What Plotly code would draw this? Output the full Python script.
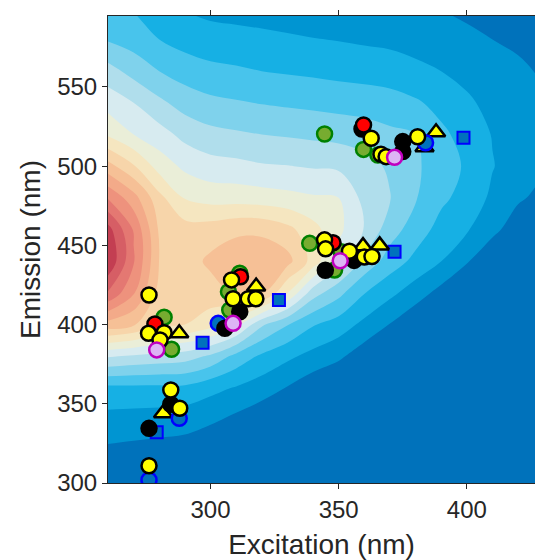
import numpy as np
import plotly.graph_objects as go

# ---------------- background EEM (contour level estimates) -------------
ex_grid = [260, 270, 280, 290, 300, 310, 320, 330, 340, 350, 360, 370, 380, 390, 400, 410, 420, 430]
em_grid = [300, 320, 340, 360, 380, 400, 420, 440, 460, 480, 500, 520, 540, 560, 580, 600]

col_260 = [0.0, 0.8, 1.66, 2.75, 6.1, 10.6, 13.9, 15.9, 15.4, 12.9, 10.4, 7.85, 6.6, 5.4, 3.9, 3.2]
col_270 = [0.0, 0.7, 1.6, 2.75, 5.85, 10.1, 12.1, 13.1, 12.9, 11.4, 9.1, 7.0, 6.0, 4.64, 3.55, 2.9]
col_280 = [-0.1, 0.6, 1.53, 2.76, 5.66, 9.15, 9.6, 9.97, 9.85, 9.3, 7.57, 6.41, 5.22, 4.0, 3.0, 2.0]
col_290 = [-0.4, 0.55, 1.4, 2.76, 5.47, 9.0, 9.4, 9.55, 9.45, 7.93, 6.78, 5.7, 4.58, 3.55, 2.62, 1.9]
col_300 = [-1.2, 0.0, 1.19, 2.29, 4.82, 8.37, 9.6, 10.2, 9.5, 7.6, 6.4, 5.3, 4.24, 3.26, 2.42, 1.7]
col_310 = [-1.6, -0.42, 0.75, 1.92, 3.67, 7.33, 10.15, 10.6, 9.8, 7.57, 6.29, 5.14, 4.09, 3.14, 2.35, 1.6]
col_320 = [-2.0, -0.86, 0.3, 1.48, 2.81, 5.16, 10.2, 10.65, 9.8, 7.46, 6.1, 5.0, 3.95, 3.0, 2.26, 1.5]
col_330 = [-2.8, -1.56, -0.3, 0.94, 2.21, 4.06, 8.0, 10.35, 9.3, 7.31, 6.03, 4.9, 3.84, 2.9, 2.15, 1.4]
col_340 = [-3.8, -2.4, -1.05, 0.32, 1.68, 3.07, 5.45, 8.6, 8.35, 7.12, 5.91, 4.79, 3.75, 2.81, 2.04, 1.3]
col_350 = [-4.0, -2.8, -1.5, -0.13, 1.2, 2.53, 4.29, 6.51, 7.25, 7.0, 5.82, 4.68, 3.63, 2.7, 1.96, 1.25]
col_360 = [-4.9, -3.6, -2.3, -0.9, 0.41, 1.74, 3.04, 4.72, 5.95, 5.7, 5.4, 4.51, 3.54, 2.62, 1.85, 1.2]
col_370 = [-5.7, -4.4, -3.0, -1.7, -0.37, 0.96, 2.25, 3.53, 4.46, 5.05, 4.84, 4.22, 3.4, 2.52, 1.76, 1.15]
col_380 = [-6.5, -5.2, -3.9, -2.5, -1.2, 0.16, 1.48, 2.73, 3.51, 4.08, 4.2, 4.0, 3.13, 2.26, 1.6, 1.05]
col_390 = [-7.4, -6.0, -4.7, -3.4, -2.0, -0.7, 0.65, 2.01, 2.65, 3.2, 3.35, 3.2, 2.7, 2.0, 1.5, 0.95]
col_400 = [-8.2, -6.9, -5.5, -4.2, -2.9, -1.5, -0.2, 1.1, 2.1, 2.65, 2.9, 2.65, 2.2, 1.65, 1.2, 0.8]
col_410 = [-9.2, -7.9, -6.5, -5.2, -3.9, -2.5, -1.2, 0.1, 1.3, 1.8, 2.05, 1.95, 1.65, 1.35, 1.0, 0.7]
col_420 = [-10.0, -8.7, -7.3, -6.0, -4.7, -3.4, -2.0, -0.8, 0.4, 1.15, 1.5, 1.5, 1.35, 1.15, 0.85, 0.55]
col_430 = [-10.8, -9.5, -8.1, -6.8, -5.5, -4.2, -2.8, -1.5, -0.2, 0.7, 1.1, 1.2, 1.1, 0.9, 0.6, 0.3]

band_colors = ["#0072BB", "#0095D2", "#16B0E4", "#48C4EC", "#7FD2EC", "#B0DEEC", "#D7EBF0",
               "#EAEED8", "#F5E6C0", "#F7D5AA", "#F6C096", "#F3AA89", "#EE927D", "#E47872",
               "#D65E65", "#C33E52"]

# ---------------- marker datasets ----------------
yc_ex = [276.0, 284.5, 288.0, 276.0, 275.8, 281.9, 280.3, 308.2, 308.8, 314.7, 317.7,
         344.5, 344.9, 354.2, 360.0, 363.0, 362.7, 366.5, 368.5, 380.8]
yc_em = [310.9, 358.7, 347.2, 418.7, 394.5, 394.9, 390.3, 428.2, 416.3, 416.3, 416.3,
         453.5, 447.8, 446.3, 442.7, 443.0, 517.6, 507.5, 506.0, 518.6]

bk_ex = [276.0, 284.5, 311.4, 305.6, 344.8, 356.0, 359.1, 375.0, 375.0]
bk_em = [334.5, 349.7, 408.1, 397.7, 434.3, 440.5, 523.5, 515.5, 509.2]

rd_ex = [278.3, 311.7, 347.8, 359.7]
rd_em = [400.4, 430.2, 451.7, 526.0]

gr_ex = [281.9, 284.8, 307.0, 307.5, 311.4, 338.7, 351.0, 348.4, 344.5, 359.7, 365.3]
gr_em = [404.6, 384.4, 420.8, 409.2, 432.4, 451.3, 446.0, 434.5, 520.3, 510.6, 507.0]

pk_ex = [279.0, 308.8, 350.6, 371.8]
pk_em = [384.0, 400.8, 440.3, 505.6]

bc_ex = [276.0, 287.8, 303.0, 383.9]
bc_em = [301.9, 340.8, 400.8, 514.8]

sq_ex = [279.0, 296.9, 326.7, 371.8, 398.7]
sq_em = [332.0, 388.6, 415.5, 446.0, 518.0]

tr_ex = [281.5, 287.8, 317.8, 359.5, 366.0, 383.5, 388.0]
tr_em = [344.0, 394.5, 424.0, 449.5, 450.0, 512.0, 521.4]

x_ticks = [300, 350, 400]
y_ticks = [300, 350, 400, 450, 500, 550]

# ---------------- build figure ----------------
columns = [col_260, col_270, col_280, col_290, col_300, col_310, col_320, col_330, col_340,
           col_350, col_360, col_370, col_380, col_390, col_400, col_410, col_420, col_430]
Z = np.array(columns).T  # rows follow em_grid

n = len(band_colors)
colorscale = [[i / (n - 1), c] for i, c in enumerate(band_colors)]

fig = go.Figure()
fig.add_trace(go.Contour(
    x=ex_grid, y=em_grid, z=Z,
    contours=dict(start=1, end=15, size=1, coloring="fill", showlines=False),
    line=dict(width=0, smoothing=1.0),
    colorscale=colorscale, showscale=False, hoverinfo="skip"))

def add_pts(xs, ys, symbol, size, fill, edge, lw):
    fig.add_trace(go.Scatter(
        x=xs, y=ys, mode="markers", showlegend=False, hoverinfo="skip",
        marker=dict(symbol=symbol, size=size, color=fill, line=dict(color=edge, width=lw))))

add_pts(sq_ex, sq_em, "square", 12, "#0072BD", "#0000FF", 2)
add_pts(gr_ex, gr_em, "circle", 15, "#77AC30", "#008000", 2.5)
add_pts(tr_ex, tr_em, "triangle-up", 16, "#FFFF00", "#000000", 2.5)
add_pts(bc_ex, bc_em, "circle", 15, "#0072BD", "#0000FF", 2.5)
add_pts(bk_ex, bk_em, "circle", 15, "#000000", "#000000", 2.5)
add_pts(rd_ex, rd_em, "circle", 15, "#FF0000", "#000000", 2.5)
add_pts(yc_ex, yc_em, "circle", 15, "#FFFF00", "#000000", 2.5)
add_pts(pk_ex, pk_em, "circle", 15, "#DDB4F5", "#BF00BF", 2.5)

axis_col = "#262626"
font_fam = "Liberation Sans, Arial, sans-serif"

fig.update_layout(
    width=535, height=560,
    margin=dict(l=108, r=0, t=16, b=77),
    paper_bgcolor="white", plot_bgcolor="white",
    font=dict(family=font_fam, color=axis_col),
    xaxis=dict(range=[260, 426.6], tickvals=x_ticks, ticks="outside", ticklen=5,
               tickcolor=axis_col, tickwidth=1, showline=True, linecolor=axis_col,
               linewidth=1, mirror="ticks", showgrid=False, zeroline=False,
               tickfont=dict(size=24, color=axis_col),
               title=dict(text="Excitation (nm)", font=dict(size=28, color=axis_col), standoff=12)),
    yaxis=dict(range=[300, 594.8], tickvals=y_ticks, ticks="outside", ticklen=5,
               tickcolor=axis_col, tickwidth=1, showline=True, linecolor=axis_col,
               linewidth=1, mirror=False, showgrid=False, zeroline=False,
               tickfont=dict(size=24, color=axis_col),
               title=dict(text="Emission (nm)", font=dict(size=28, color=axis_col), standoff=8)),
)

fig.write_html("out.html")
